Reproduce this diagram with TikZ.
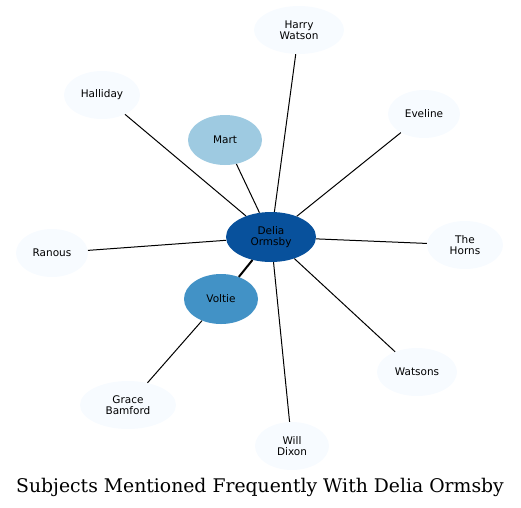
\documentclass[tikz,border=0pt]{standalone}
\usepackage{fontspec}
\newfontfamily\labelfont{DejaVu Sans}
\newfontfamily\titlefont{DejaVu Serif}
\usepackage{xcolor}
\usetikzlibrary{shapes.geometric}
\definecolor{hubblue}{HTML}{08519C}
\definecolor{midblue}{HTML}{4292C6}
\definecolor{paleblue}{HTML}{9ECAE1}
\definecolor{faintblue}{HTML}{F7FBFF}
\begin{document}
\begin{tikzpicture}[x=1pt, y=-1pt, every node/.style={font=\labelfont\fontsize{10.5}{11.5}\selectfont, align=center},
  subj/.style={ellipse, fill=faintblue, minimum width=74pt, minimum height=48pt, inner sep=0pt},
  link/.style={draw=black, line width=1pt}]
  \useasboundingbox (0,0) rectangle (521,507);
  \node[subj, fill=hubblue, minimum width=90pt, minimum height=50pt] (d) at (271,237) {Delia\\Ormsby};
  \node[subj, minimum width=90pt] (hw) at (299,30) {Harry\\Watson};
  \node[subj, minimum width=76pt] (ha) at (102,95) {Halliday};
  \node[subj, fill=paleblue, minimum height=50pt] (m) at (225,140) {Mart};
  \node[subj, minimum width=72pt] (e) at (424,114) {Eveline};
  \node[subj, minimum width=72pt] (r) at (52,253) {Ranous};
  \node[subj, minimum width=76pt] (th) at (465,245) {The\\Horns};
  \node[subj, fill=midblue, minimum height=50pt] (v) at (221,299) {Voltie};
  \node[subj, minimum width=80pt] (w) at (417,372) {Watsons};
  \node[subj, minimum width=96pt] (gb) at (128,405) {Grace\\Bamford};
  \node[subj] (wd) at (292,446) {Will\\Dixon};
  \node[font=\titlefont\fontsize{18.8}{22}\selectfont, anchor=base] (title) at (260,492) {Subjects Mentioned Frequently With Delia Ormsby};
  \draw[link] (d) -- (hw); \draw[link] (d) -- (ha); \draw[link] (d) -- (m); \draw[link] (d) -- (e); \draw[link] (d) -- (r);
  \draw[link] (d) -- (th); \draw[link, line width=2pt] (d) -- (v); \draw[link] (d) -- (w); \draw[link] (d) -- (wd);
  \draw[link] (v) -- (gb);
\end{tikzpicture}
\end{document}
